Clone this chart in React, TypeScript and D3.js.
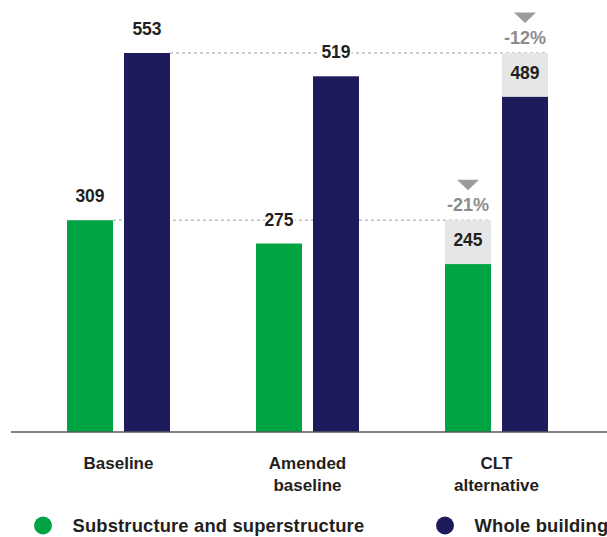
import React from "react";
import * as d3 from "d3";

const categories = [["Baseline"], ["Amended", "baseline"], ["CLT", "alternative"]];
const categoryKeys = ["Baseline", "Amended baseline", "CLT alternative"];
const seriesNames = ["Substructure and superstructure", "Whole building"];
const substructure = [309, 275, 245];
const wholeBuilding = [553, 519, 489];
const seriesColors = ["#00a443", "#1d1b5c"];

const W = 607;
const H = 537;
const FONT = "'Liberation Sans', Arial, Helvetica, sans-serif";

export default function App() {
  const x = d3.scaleBand<string>().domain(categoryKeys).range([67, 548]).paddingInner(0.455).paddingOuter(0);
  const xs = d3.scaleBand<string>().domain(["s", "w"]).range([0, x.bandwidth()]).paddingInner(0.193).paddingOuter(0);
  const y = d3.scaleLinear().domain([0, 553]).range([432, 53]);
  const series = [substructure, wholeBuilding];
  const keys = ["s", "w"];
  const last = categoryKeys.length - 1;
  const pct = d3.format(".0%");

  return (
    <svg width={W} height={H} style={{ position: "absolute", left: 0, top: 0, background: "#fff" }} fontFamily={FONT}>
      {series.map((vals, si) => {
        const x1 = (x(categoryKeys[0]) as number) + (xs(keys[si]) as number) + xs.bandwidth();
        const x2 = (x(categoryKeys[last]) as number) + (xs(keys[si]) as number) + xs.bandwidth();
        return (
          <line key={"d" + si} x1={x1} x2={x2} y1={y(vals[0])} y2={y(vals[0])} stroke="#bdbdbd" strokeWidth={1.3} strokeDasharray="3 3" />
        );
      })}
      {series.map((vals, si) => {
        const bx = (x(categoryKeys[last]) as number) + (xs(keys[si]) as number);
        return (
          <rect key={"g" + si} x={bx} width={xs.bandwidth()} y={y(vals[0])} height={y(vals[last]) - y(vals[0])} fill="#e5e6e7" />
        );
      })}
      {categoryKeys.map((c, ci) =>
        series.map((vals, si) => (
          <rect
            key={c + si}
            x={(x(c) as number) + (xs(keys[si]) as number)}
            width={xs.bandwidth()}
            y={y(vals[ci])}
            height={y(0) - y(vals[ci])}
            fill={seriesColors[si]}
          />
        ))
      )}
      {categoryKeys.map((c, ci) =>
        series.map((vals, si) => (
          <text
            key={"v" + c + si}
            x={(x(c) as number) + (xs(keys[si]) as number) + xs.bandwidth() / 2}
            y={y(vals[ci]) - 18}
            textAnchor="middle"
            fontSize={17.5}
            fontWeight="bold"
            fill="#231f20"
            stroke="#fff"
            strokeWidth={ci === last ? 0 : 4}
            style={{ paintOrder: "stroke" }}
          >
            {vals[ci]}
          </text>
        ))
      )}
      {series.map((vals, si) => {
        const cx = (x(categoryKeys[last]) as number) + (xs(keys[si]) as number) + xs.bandwidth() / 2;
        const top = y(vals[0]);
        const change = (vals[last] - vals[0]) / vals[0];
        const tTop = top - 40.5;
        return (
          <g key={"c" + si}>
            <path d={`M${cx - 11},${tTop}L${cx + 11},${tTop}L${cx},${tTop + 10.5}Z`} fill="#9b9b9b" />
            <text x={cx} y={top - 9} textAnchor="middle" fontSize={18} fontWeight="bold" fill="#8c8c8e">
              {pct(change).replace("−", "-")}
            </text>
          </g>
        );
      })}
      <line x1={11} x2={W} y1={y(0)} y2={y(0)} stroke="#58595b" strokeWidth={1.4} />
      {categories.map((lines, ci) => (
        <text
          key={"cat" + ci}
          x={(x(categoryKeys[ci]) as number) + x.bandwidth() / 2}
          y={469}
          textAnchor="middle"
          fontSize={17}
          fontWeight="bold"
          fill="#231f20"
        >
          {lines.map((l, li) => (
            <tspan key={li} x={(x(categoryKeys[ci]) as number) + x.bandwidth() / 2} dy={li === 0 ? 0 : 22}>
              {l}
            </tspan>
          ))}
        </text>
      ))}
      {seriesNames.map((n, si) => {
        const lx = si === 0 ? 43 : 445;
        return (
          <g key={"l" + si}>
            <circle cx={lx} cy={525.5} r={9} fill={seriesColors[si]} />
            <text x={lx + 29.5} y={532} fontSize={18.4} letterSpacing={0.15} fontWeight="bold" fill="#231f20">
              {n}
            </text>
          </g>
        );
      })}
    </svg>
  );
}
